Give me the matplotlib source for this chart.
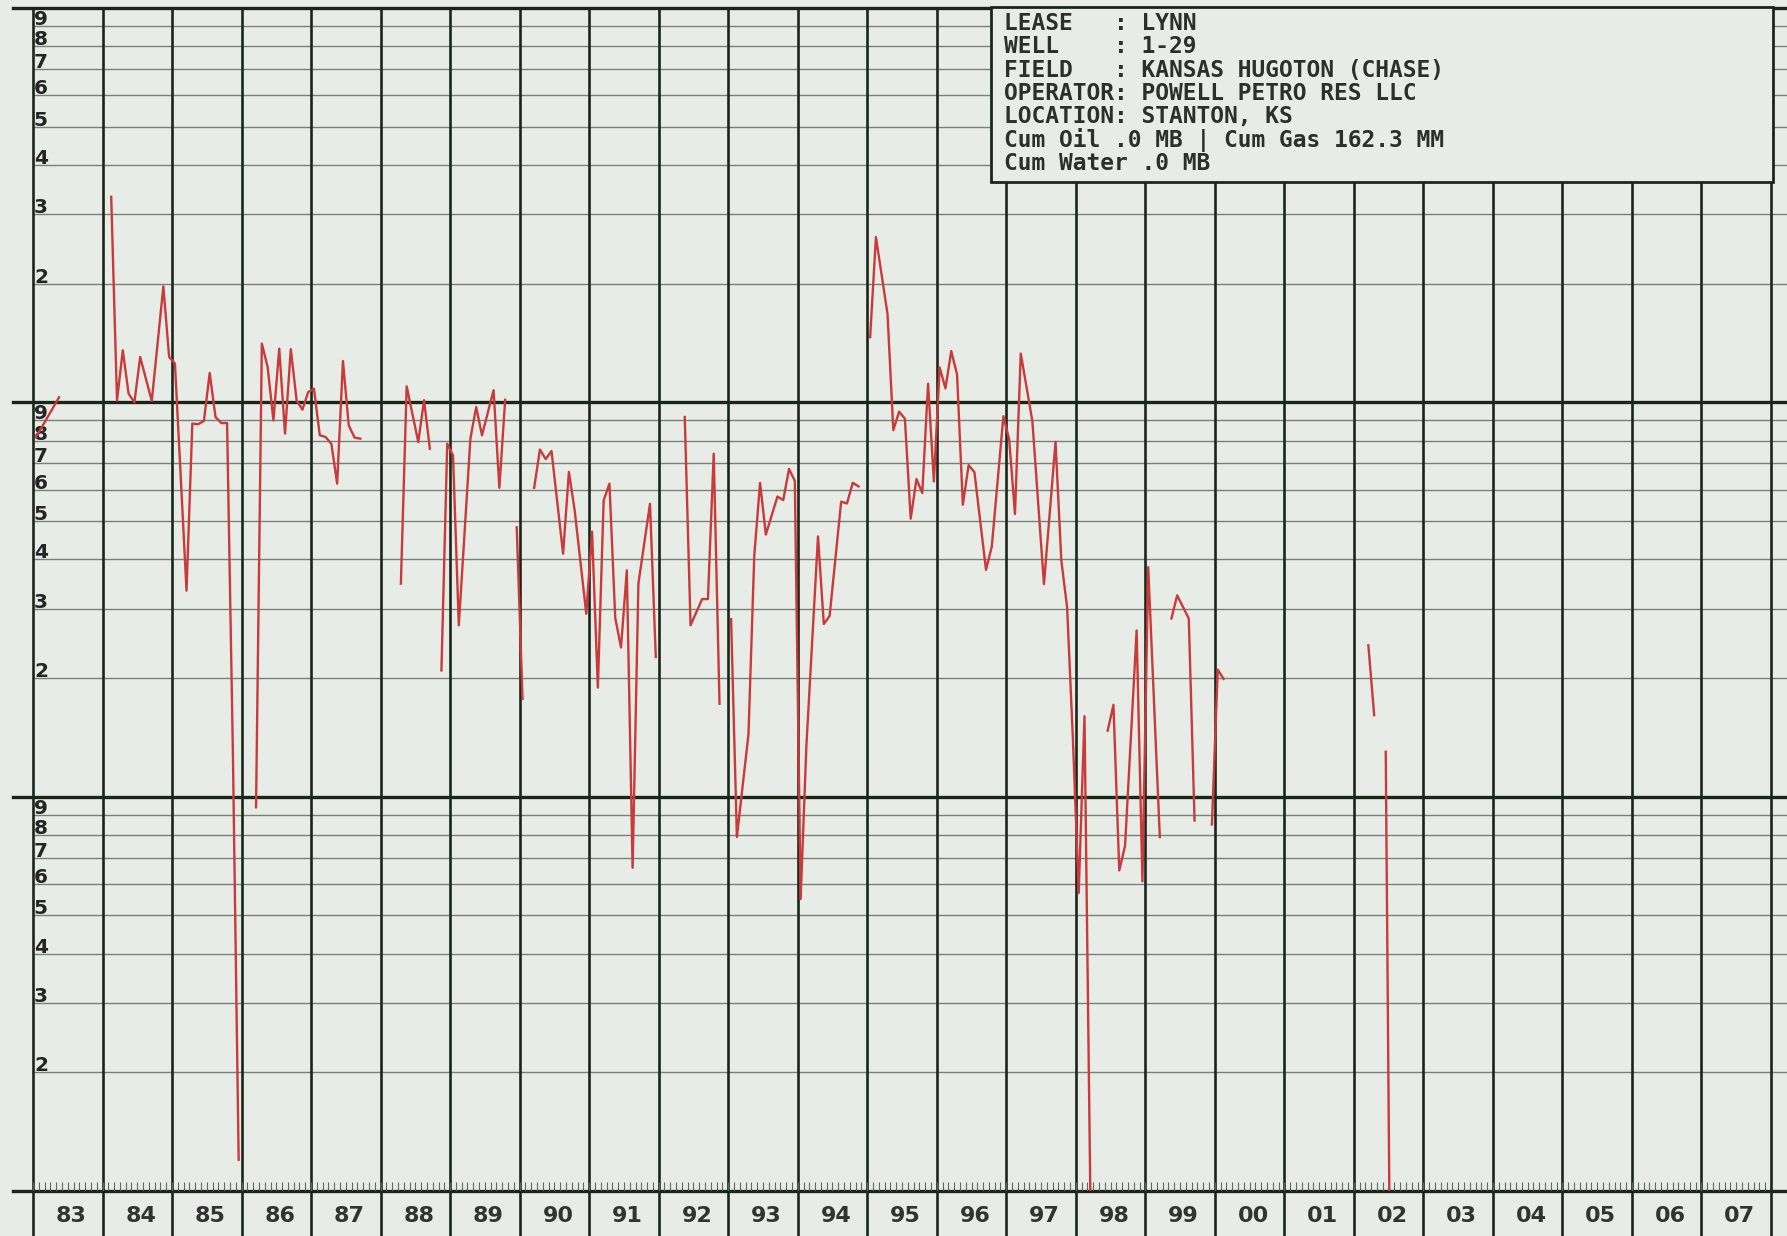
import matplotlib.pyplot as plt
import numpy as np
from matplotlib.patches import Rectangle
from matplotlib import transforms

# monthly gas rate, None marks a break in the curve
months = [
    "1983-01", "1983-05", None,
    "1984-02", "1984-03", "1984-04", "1984-05", "1984-06", "1984-07", "1984-09",
    "1984-11", "1984-12", "1985-01", "1985-03", "1985-04", "1985-05", "1985-06",
    "1985-07", "1985-08", "1985-09", "1985-10", "1985-11", "1985-12", None,
    "1986-03", "1986-04", "1986-05", "1986-06", "1986-07", "1986-08", "1986-09",
    "1986-10", "1986-11", "1986-12", "1987-01", "1987-02", "1987-03", "1987-04",
    "1987-05", "1987-06", "1987-07", "1987-08", "1987-09", None,
    "1988-04", "1988-05", "1988-07", "1988-08", "1988-09", None,
    "1988-11", "1988-12", "1989-01", "1989-02", "1989-04", "1989-05", "1989-06",
    "1989-08", "1989-09", "1989-10", None,
    "1989-12", "1990-01", None,
    "1990-03", "1990-04", "1990-05", "1990-06", "1990-08", "1990-09", "1990-10",
    "1990-12", "1991-01", "1991-02", "1991-03", "1991-04", "1991-05", "1991-06",
    "1991-07", "1991-08", "1991-09", "1991-11", "1991-12", None,
    "1992-05", "1992-06", "1992-08", "1992-09", "1992-10", "1992-11", None,
    "1993-01", "1993-02", "1993-04", "1993-05", "1993-06", "1993-07", "1993-09",
    "1993-10", "1993-11", "1993-12", "1994-01", "1994-02", "1994-04", "1994-05",
    "1994-06", "1994-08", "1994-09", "1994-10", "1994-11", None,
    "1995-01", "1995-02", "1995-04", "1995-05", "1995-06", "1995-07", "1995-08",
    "1995-09", "1995-10", "1995-11", "1995-12", "1996-01", "1996-02", "1996-03",
    "1996-04", "1996-05", "1996-06", "1996-07", "1996-09", "1996-10", "1996-12",
    "1997-01", "1997-02", "1997-03", "1997-05", "1997-07", "1997-09", "1997-10",
    "1997-11", "1997-12", "1998-01", "1998-02", "1998-03", None,
    "1998-06", "1998-07", "1998-08", "1998-09", "1998-11", "1998-12", "1999-01",
    "1999-03", None,
    "1999-05", "1999-06", "1999-08", "1999-09", None,
    "1999-12", "2000-01", "2000-02", None,
    "2002-03", "2002-04", None,
    "2002-06", "2002-07",
]
gas = [
    815, 1030, None,
    3320, 1010, 1355, 1052, 1000, 1303, 1008,
    1968, 1303, 1254, 333, 883, 880, 897,
    1187, 918, 886, 886, 130, 12, None,
    94, 1409, 1229, 900, 1369, 833, 1364,
    1012, 958, 1062, 1083, 825, 817, 785,
    622, 1273, 874, 814, 809, None,
    347, 1098, 793, 1012, 763, None,
    209, 785, 734, 272, 809, 973, 825,
    1073, 607, 1015, None,
    482, 177, None,
    607, 759, 718, 753, 413, 666, 532,
    291, 470, 189, 564, 622, 284, 239,
    375, 66, 347, 553, 226, None,
    918, 272, 317, 317, 741, 172, None,
    282, 79, 144, 409, 625, 462, 577,
    565, 678, 632, 55, 135, 457, 274,
    287, 560, 554, 625, 612, None,
    1463, 2625, 1675, 850, 947, 909, 507,
    639, 589, 1115, 630, 1226, 1085, 1349,
    1177, 550, 693, 665, 376, 431, 922,
    805, 521, 1330, 897, 346, 794, 397,
    302, 140, 57, 160, 10, None,
    147, 171, 65, 75, 264, 61, 382,
    79, None,
    283, 324, 283, 87, None,
    85, 210, 199, None,
    242, 161, None,
    130, 2,
]

years = list(range(1983, 2008))
year_labels = [f"{y % 100:02d}" for y in years]
decades = [10, 100, 1000]

header = [
    "LEASE   : LYNN",
    "WELL    : 1-29",
    "FIELD   : KANSAS HUGOTON (CHASE)",
    "OPERATOR: POWELL PETRO RES LLC",
    "LOCATION: STANTON, KS",
    "Cum Oil .0 MB | Cum Gas 162.3 MM",
    "Cum Water .0 MB",
]

bg = '#e8ece6'
dark = '#1b261b'
minor = '#7a7f7a'
red = '#c93a3a'

W, H = 1787, 1236
left, bottom, top = 33, 1191, 8
year_px = 69.52

fig = plt.figure(figsize=(W / 100, H / 100), dpi=100)
fig.patch.set_facecolor(bg)
ax = fig.add_axes([left / W, (H - bottom) / H, (W - left) / W, (bottom - top) / H])
ax.set_facecolor(bg)
ax.set_yscale('log')
ax.set_ylim(10, 10000)
ax.set_xlim(1983, 1983 + (W - left) / year_px)
for s in ax.spines.values():
    s.set_visible(False)
ax.set_yticks([])
ax.minorticks_off()

# minor log lines
for d in decades:
    for k in range(2, 10):
        ax.axhline(d * k, color=minor, lw=1.0, zorder=1)

# decade lines, poking out a bit on the left
ytr = ax.get_yaxis_transform()
for d in decades + [10000]:
    ax.plot([-20 / (W - left), 1], [d, d], transform=ytr, color=dark,
            lw=2.4, clip_on=False, zorder=2)

# year columns, running down through the label strip
xtr = ax.get_xaxis_transform()
strip = (H - bottom) / (bottom - top)
for y in years + [2008]:
    ax.plot([y, y], [-strip, 1], transform=xtr, color=dark, lw=1.9,
            clip_on=False, zorder=2)

# month ticks along the bottom
mt = np.arange(1983, 2008, 1 / 12)
ax.vlines(mt, 0, 9 / (bottom - top), transform=xtr, color='#5d635d',
          lw=0.8, zorder=2)

# y labels 2..9 in every decade
lab_tr = transforms.offset_copy(ytr, fig=fig, x=0, y=1, units='dots')
for d in decades:
    for k in range(2, 10):
        ax.text(0.0005, d * k, str(k), transform=lab_tr, ha='left',
                va='baseline', fontsize=14.5, fontweight='bold', color='#252525',
                zorder=3)

# year labels
ax.set_xticks([y + 0.55 for y in years])
ax.set_xticklabels(year_labels, fontsize=16, fontweight='bold', color='#333333')
ax.tick_params(axis='x', length=0, pad=11)

# production curve
xs, ys = [], []
for m, v in zip(months, gas):
    if m is None:
        xs.append(np.nan)
        ys.append(np.nan)
        continue
    yr, mo = map(int, m.split('-'))
    xs.append(yr + (mo - 0.5) / 12)
    ys.append(v)
ax.plot(xs, ys, color=red, lw=1.7, zorder=4)

# well info box
fig.add_artist(Rectangle((991 / W, 1 - 182 / H), (1773 - 991) / W, (182 - 7) / H,
                         transform=fig.transFigure, facecolor=bg,
                         edgecolor=dark, lw=2, zorder=5))
for i, line in enumerate(header):
    fig.text(1004 / W, 1 - (29.5 + i * 23.5) / H, line, ha='left', va='baseline',
             family='DejaVu Sans Mono', fontweight='bold', fontsize=16.5,
             color='#2e2e2e', zorder=6)

fig.savefig('out.png', dpi=100, facecolor=bg)
